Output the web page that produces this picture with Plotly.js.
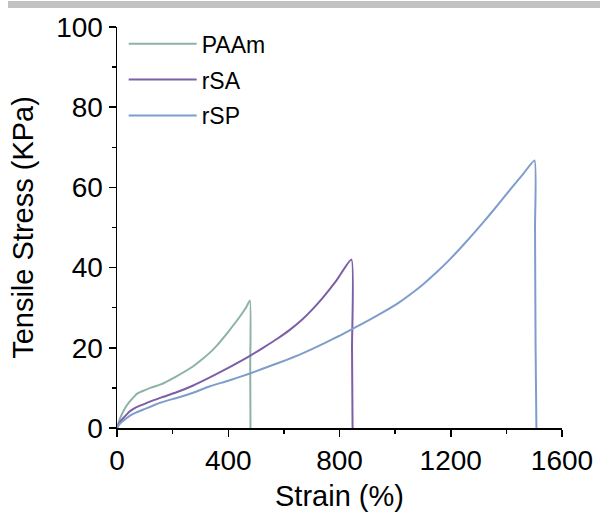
<!DOCTYPE html>
<html>
<head>
<meta charset="utf-8">
<script src="https://cdn.plot.ly/plotly-3.0.1.min.js"></script>
<style>html,body{margin:0;padding:0;background:#fff;}#chart{width:600px;height:518px;}</style>
</head>
<body>
<div id="chart"></div>
<script>
// Strain (%) and tensile stress (KPa)
const seriesNames = ["PAAm", "rSA", "rSP"];
const paamStrain = [0, 5, 12, 23, 35, 47, 60, 71, 85, 95, 120, 155, 214, 274, 304, 334, 358, 400, 442, 465, 478, 479, 480];
const paamStress = [0, 1.2, 2.6, 4.2, 5.6, 6.7, 7.7, 8.5, 9.0, 9.3, 10.0, 10.8, 12.9, 15.4, 17.0, 18.8, 20.5, 24.0, 27.8, 30.2, 31.8, 15, 0];
const rsaStrain = [0, 5, 12, 23, 35, 47, 70, 95, 155, 214, 274, 334, 400, 478, 525, 575, 620, 665, 700, 741, 790, 843, 845, 847];
const rsaStress = [0, 0.8, 1.6, 2.5, 3.4, 4.2, 5.2, 5.9, 7.5, 8.9, 10.6, 12.6, 15, 18, 20, 22.2, 24.4, 27.0, 29.4, 32.6, 36.9, 42, 20, 0];
const rspStrain = [0, 5, 12, 23, 35, 47, 70, 95, 155, 214, 274, 334, 400, 478, 560, 610, 657, 693, 750, 800, 860, 909, 960, 1016, 1060, 1100, 1150, 1196, 1250, 1316, 1370, 1412, 1460, 1501, 1503, 1505, 1508];
const rspStress = [0, 0.6, 1.2, 1.8, 2.5, 3.1, 3.9, 4.6, 6.3, 7.5, 8.8, 10.4, 11.8, 13.6, 15.7, 17.0, 18.3, 19.4, 21.3, 23.0, 25.2, 27.0, 29.0, 31.4, 33.6, 35.8, 38.9, 42.0, 46.0, 51.2, 55.7, 59.3, 63.3, 66.7, 50, 20, 0];
const xTickVals = [0, 400, 800, 1200, 1600];
const yTickVals = [0, 20, 40, 60, 80, 100];
const colors = ["#8db3a4", "#7c5fa6", "#7f9dcb"];

const font = "Liberation Sans, Arial, sans-serif";
const xs = [paamStrain, rsaStrain, rspStrain];
const ys = [paamStress, rsaStress, rspStress];
const traces = seriesNames.map((n, i) => ({
  type: "scatter", mode: "lines", name: n, x: xs[i], y: ys[i],
  line: {color: colors[i], width: 2, shape: "spline", smoothing: 0.5},
  legendgroup: "g" + i
}));

const layout = {
  width: 600, height: 518,
  margin: {l: 117, r: 37.5, t: 27, b: 90},
  paper_bgcolor: "#fff", plot_bgcolor: "#fff",
  font: {family: font, color: "#000", size: 28},
  showlegend: true,
  legend: {x: 0.015, y: 1.012, xanchor: "left", yanchor: "top", bgcolor: "rgba(0,0,0,0)",
           font: {family: font, size: 23, color: "#000"}, itemwidth: 68, tracegroupgap: 3},
  xaxis: {
    range: [0, 1600], tickvals: xTickVals, ticktext: xTickVals.map(String),
    showgrid: false, zeroline: false, showline: true, linecolor: "#000", linewidth: 1.5,
    ticks: "outside", ticklen: 7, tickwidth: 1.5, tickcolor: "#000",
    minor: {dtick: 200, tick0: 0, ticks: "outside", ticklen: 4, tickwidth: 1.5, tickcolor: "#000", showgrid: false},
    tickfont: {family: font, size: 28, color: "#000"},
    title: {text: "Strain (%)", font: {family: font, size: 29, color: "#000"}, standoff: 10}
  },
  yaxis: {
    range: [0, 100], tickvals: yTickVals, ticktext: yTickVals.map(String),
    showgrid: false, zeroline: false, showline: true, linecolor: "#000", linewidth: 1.5,
    ticks: "outside", ticklen: 7, tickwidth: 1.5, tickcolor: "#000",
    minor: {dtick: 10, tick0: 0, ticks: "outside", ticklen: 4, tickwidth: 1.5, tickcolor: "#000", showgrid: false},
    tickfont: {family: font, size: 28, color: "#000"},
    title: {text: "Tensile Stress (KPa)", font: {family: font, size: 29, color: "#000"}, standoff: 14}
  },
  shapes: [{type: "rect", xref: "paper", yref: "paper",
            x0: -0.245, x1: 1.09, y0: 1.0475, y1: 1.065,
            fillcolor: "#c2c2c2", line: {width: 0}, layer: "above"}]
};

Plotly.newPlot("chart", traces, layout, {displayModeBar: false, staticPlot: true});
</script>
</body>
</html>
